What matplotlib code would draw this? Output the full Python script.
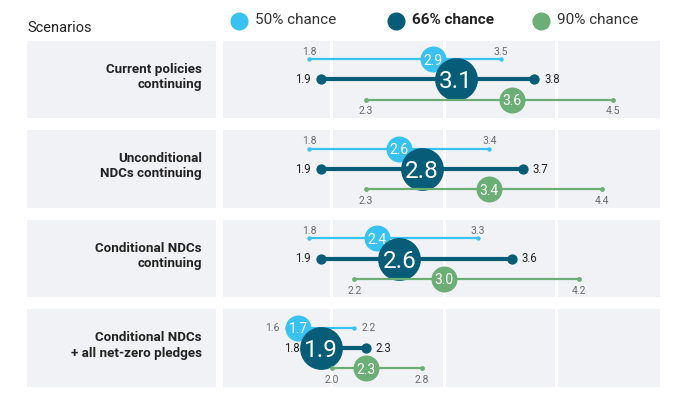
import matplotlib
matplotlib.use("Agg")
import matplotlib.pyplot as plt
from matplotlib.patches import Rectangle

plt.rcParams["font.family"] = ["Roboto", "DejaVu Sans"]

# --- datos ---
SCENARIOS = ["Current policies\ncontinuing",
             "Unconditional\nNDCs continuing",
             "Conditional NDCs\ncontinuing",
             "Conditional NDCs\n+ all net-zero pledges"]

LOW_50 = [1.8, 1.8, 1.8, 1.6]
MID_50 = [2.9, 2.6, 2.4, 1.7]
HIGH_50 = [3.5, 3.4, 3.3, 2.2]

LOW_66 = [1.9, 1.9, 1.9, 1.8]
MID_66 = [3.1, 2.8, 2.6, 1.9]
HIGH_66 = [3.8, 3.7, 3.6, 2.3]

LOW_90 = [2.3, 2.3, 2.2, 2.0]
MID_90 = [3.6, 3.4, 3.0, 2.3]
HIGH_90 = [4.5, 4.4, 4.2, 2.8]

SERIES_NAMES = ["50% chance", "66% chance", "90% chance"]
GRID = [1, 2, 3, 4]

C50, C66, C90 = "#38C2F1", "#075C77", "#6BAE76"
PANEL = "#F1F2F6"
GRAY_TXT = "#6b6b6b"
DARK_TXT = "#222222"

W, H = 680, 405
fig = plt.figure(figsize=(W / 100, H / 100), dpi=100)


def px_box(x0, y0, x1, y1):
    # caja en pixeles (origen arriba-izquierda) -> fraccion de figura
    return [x0 / W, 1 - y1 / H, (x1 - x0) / W, (y1 - y0) / H]


XMIN, XMAX = 1.0, 4.92
ROW_TOP, ROW_BOT = 34.6, 393.0
ax = fig.add_axes(px_box(219.3, ROW_TOP, 660.3, ROW_BOT))
lab = fig.add_axes(px_box(27, ROW_TOP, 216, ROW_BOT))
for a in (ax, lab):
    a.set_ylim(len(SCENARIOS) - 0.5, -0.5)
    a.axis("off")
ax.set_xlim(XMIN, XMAX)
lab.set_xlim(0, 1)

HALF = 0.433
gap = 0.014
for r in range(len(SCENARIOS)):
    lab.add_patch(Rectangle((0, r - HALF), 1, 2 * HALF, color=PANEL, lw=0, zorder=0))
    for i, g in enumerate(GRID):
        x0 = g + (0.03 if i == 0 else gap)
        x1 = min(g + 1 - gap, XMAX)
        ax.add_patch(Rectangle((x0, r - HALF), x1 - x0, 2 * HALF, color=PANEL, lw=0, zorder=0))
    lab.text(0.925, r - 0.03, SCENARIOS[r], ha="right", va="center", fontsize=9.6,
             fontweight="bold", color=DARK_TXT, linespacing=1.22)

OFF = [-0.226, 0.0, 0.226]
series = [(LOW_50, MID_50, HIGH_50, C50, 1.6, 10, 350, 10),
          (LOW_66, MID_66, HIGH_66, C66, 3.0, 55, 950, 17.5),
          (LOW_90, MID_90, HIGH_90, C90, 1.6, 12, 350, 10)]

for k, (lo, mid, hi, col, lw, s_end, s_mid, fs_mid) in enumerate(series):
    z = 2 + 2 * k
    for r in range(len(SCENARIOS)):
        y = r + OFF[k]
        ax.plot([lo[r], hi[r]], [y, y], color=col, lw=lw, zorder=z, solid_capstyle="butt")
        ax.scatter([lo[r], hi[r]], [y, y], s=s_end, color=col, zorder=z, lw=0)
        ax.scatter([mid[r]], [y], s=s_mid, color=col, zorder=z + 1, lw=0)
        ax.text(mid[r], y, f"{mid[r]:.1f}", ha="center", va="center_baseline",
                fontsize=fs_mid, color="white", zorder=z + 1)
        # etiquetas de los extremos
        if k == 1 or (k == 0 and r == len(SCENARIOS) - 1):
            colr = DARK_TXT if k == 1 else GRAY_TXT
            fs = 8.3 if k == 1 else 7.5
            off = 7 if k == 1 else 5
            ax.annotate(f"{lo[r]:.1f}", (lo[r], y), xytext=(-off, 0), textcoords="offset points",
                        ha="right", va="center", fontsize=fs, color=colr, zorder=20)
            ax.annotate(f"{hi[r]:.1f}", (hi[r], y), xytext=(off, 0), textcoords="offset points",
                        ha="left", va="center", fontsize=fs, color=colr, zorder=20)
        else:
            dy = 5.5 if k == 0 else -8.5
            for v in (lo[r], hi[r]):
                ax.annotate(f"{v:.1f}", (v, y), xytext=(0, dy), textcoords="offset points",
                            ha="center", va="center", fontsize=7.5, color=GRAY_TXT, zorder=20)

# titulo de columna y leyenda
fig.text(27 / W, 1 - 28 / H, "Scenarios", ha="left", va="center", fontsize=10.5, color=DARK_TXT)
leg_x = [239, 396, 541]
for name, col, x in zip(SERIES_NAMES, [C50, C66, C90], leg_x):
    fig.add_artist(plt.Line2D([x / W], [1 - 20.5 / H], marker="o", markersize=13,
                              color=col, markeredgewidth=0, transform=fig.transFigure))
    fig.text((x + 16) / W, 1 - 20.5 / H, name, ha="left", va="center", fontsize=11,
             color=DARK_TXT if col == C66 else "#333333",
             fontweight="bold" if col == C66 else "normal")

fig.savefig("out.png", dpi=100)
